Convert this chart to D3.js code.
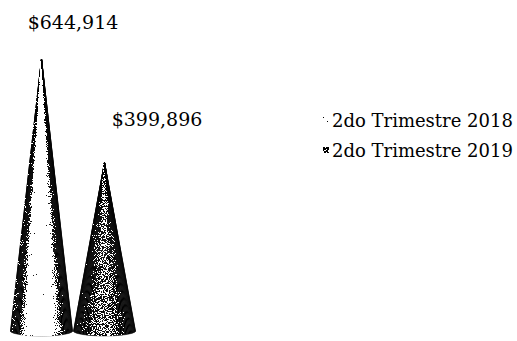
<!DOCTYPE html>
<html><head><meta charset="utf-8">
<script src="https://cdn.jsdelivr.net/npm/d3@7"></script>
<style>html,body{margin:0;padding:0;background:#fff;overflow:hidden}</style>
</head><body>
<svg id="c" width="517" height="341"></svg>
<script>
const seriesNames = ["2do Trimestre 2018", "2do Trimestre 2019"];
const seriesValues = [644914, 399896];
const valueLabels = ["$644,914", "$399,896"];

const svg = d3.select("#c");
const font = "DejaVu Serif";
const baseY = 331;
const x = d3.scaleBand().domain(seriesNames).range([10, 136]).padding(0);
const y = d3.scaleLinear().domain([0, 700000]).range([baseY, baseY - 272 * 700000 / 644914]);

// shading across each cone's surface (0 = left edge, 1 = right edge)
const shade = [
  d3.scaleLinear().domain([0, 0.08, 0.16, 0.32, 0.74, 0.82, 0.9, 1]).range([0, 0.05, 0.35, 1, 1, 0.5, 0.15, 0.35]).clamp(true),
  d3.scaleLinear().domain([0, 0.08, 0.2, 0.42, 0.6, 0.8, 0.92, 1]).range([0, 0.08, 0.33, 0.54, 0.52, 0.33, 0.15, 0.12]).clamp(true)
];

const defs = svg.append("defs");
const f = defs.append("filter").attr("id", "dither").attr("color-interpolation-filters", "sRGB")
  .attr("x", "-10%").attr("y", "-10%").attr("width", "120%").attr("height", "120%");
f.append("feTurbulence").attr("type", "fractalNoise").attr("baseFrequency", 1.1).attr("numOctaves", 1).attr("seed", 7).attr("result", "n");
f.append("feColorMatrix").attr("in", "n").attr("type", "matrix")
  .attr("values", "1 0 0 0 0  1 0 0 0 0  1 0 0 0 0  0 0 0 0 1").attr("result", "ng");
f.append("feComposite").attr("in", "SourceGraphic").attr("in2", "ng").attr("operator", "arithmetic")
  .attr("k1", 0).attr("k2", 1).attr("k3", 1.6).attr("k4", -0.8).attr("result", "mix");
const ct = f.append("feComponentTransfer").attr("in", "mix").attr("result", "th");
["feFuncR", "feFuncG", "feFuncB"].forEach(fn => ct.append(fn).attr("type", "discrete").attr("tableValues", "0 1"));
f.append("feComposite").attr("in", "th").attr("in2", "SourceAlpha").attr("operator", "in");

// cones built from wedge slices so shading follows the surface
const N = 48;
const cones = svg.append("g").attr("filter", "url(#dither)");
seriesNames.forEach((name, i) => {
  const cx = x(name) + x.bandwidth() / 2, r = x.bandwidth() / 2 - 0.5, top = y(seriesValues[i]);
  const g = cones.append("g");
  const slices = d3.range(N).map(k => {
    const a0 = Math.PI * (1 - k / N), a1 = Math.PI * (1 - (k + 1) / N);
    const t = (1 - Math.cos((a0 + a1) / 2)) / 2;
    return { a0, a1, t };
  });
  const col = s => { const v = Math.round(255 * Math.min(1, shade[i](s.t))); return `rgb(${v},${v},${v})`; };
  g.selectAll("path").data(slices).join("path")
    .attr("d", s => `M${cx},${top} L${cx + r * Math.cos(s.a0)},${baseY + 5 * Math.sin(s.a0)} L${cx + r * Math.cos(s.a1)},${baseY + 5 * Math.sin(s.a1)} Z`)
    .attr("fill", col).attr("stroke", col).attr("stroke-width", 0.4);
});

// value labels
const labelPos = [[73, 29], [157, 126]];
svg.append("g").selectAll("text").data(valueLabels).join("text")
  .attr("x", (d, i) => labelPos[i][0]).attr("y", (d, i) => labelPos[i][1])
  .attr("text-anchor", "middle").attr("font-family", font).attr("font-size", 19)
  .attr("fill", "#000").text(d => d);

// legend
const lg = svg.append("g");
seriesNames.forEach((n, i) => {
  const ly = 127 + i * 30;
  lg.append("rect").attr("x", 323).attr("y", ly - 10).attr("width", 6).attr("height", 6)
    .attr("fill", i === 0 ? "#b8b8b8" : "#666").attr("filter", "url(#dither)");
  lg.append("text").attr("x", 332).attr("y", ly).attr("font-family", font).attr("font-size", 18)
    .attr("fill", "#000").text(n);
});
</script>
</body></html>
